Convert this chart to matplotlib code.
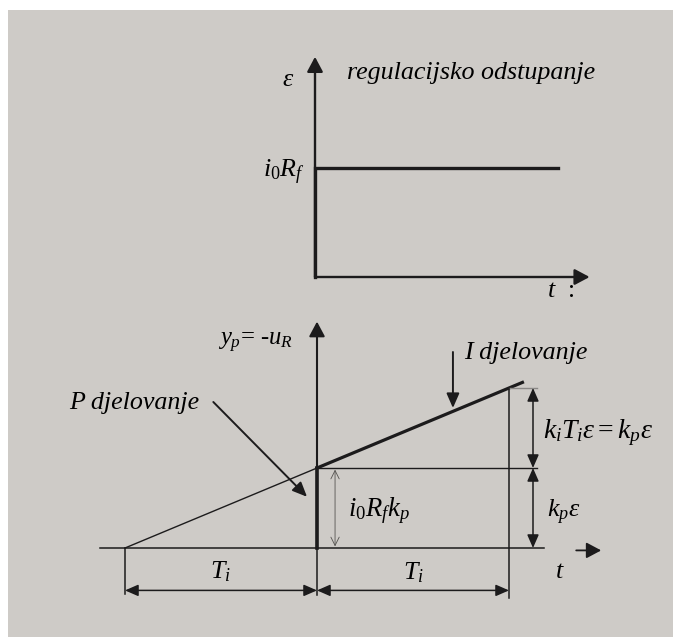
import numpy as np
import matplotlib.pyplot as plt
from matplotlib.patches import Rectangle

plt.rcParams['font.family'] = ['Liberation Serif', 'DejaVu Serif']
plt.rcParams['mathtext.fontset'] = 'custom'
plt.rcParams['mathtext.rm'] = 'Liberation Serif'
plt.rcParams['mathtext.it'] = 'Liberation Serif:italic'
plt.rcParams['mathtext.bf'] = 'Liberation Serif:bold'

# Podaci (normirano: Ti = 1, i0*Rf = 1, kp*eps = 1)
Ti = 1.0
# gornji dijagram: regulacijsko odstupanje
t_eps = [0.0, 0.0, 1.0]
eps = [0.0, 1.0, 1.0]
# donji dijagram: PI odziv
t_p = [0.0, 0.0]
y_p = [0.0, 1.0]
t_i = [0.0, 1.07]
y_i = [1.0, 2.07]
t_ext = [-Ti, 0.0]
y_ext = [0.0, 1.0]

ink = '#1c1b1c'
paper = '#cecbc7'
W, H = 676, 637

fig = plt.figure(figsize=(W / 100, H / 100), dpi=100)
fig.patch.set_facecolor('white')

bg = fig.add_axes([0, 0, 1, 1])
bg.set_xlim(0, W)
bg.set_ylim(H, 0)
bg.axis('off')
bg.add_patch(Rectangle((8, 10), 665, 627, color=paper, lw=0))


def place(origin, unit, xlim, ylim):
    ox, oy = origin
    ux, uy = unit
    left = ox + xlim[0] * ux
    right = ox + xlim[1] * ux
    bottom = oy - ylim[0] * uy
    top = oy - ylim[1] * uy
    ax = fig.add_axes([left / W, 1 - bottom / H, (right - left) / W, (bottom - top) / H])
    ax.set_xlim(xlim)
    ax.set_ylim(ylim)
    ax.axis('off')
    ax.patch.set_alpha(0)
    return ax


def arrow(ax, xy, xytext, style='-|>', ms=12, lw=1.5, color=ink, hl=0.75, hw=0.4):
    ax.annotate('', xy=xy, xytext=xytext,
                arrowprops=dict(arrowstyle=f'{style},head_length={hl},head_width={hw}',
                                mutation_scale=ms, lw=lw, color=color,
                                shrinkA=0, shrinkB=0))


fs = 18.7

# --- gornji dijagram ---
ax1 = place((315, 277), (243, 109), (-0.3, 1.4), (-0.3, 2.1))
arrow(ax1, (0, 2.02), (0, 0), lw=1.7)
arrow(ax1, (1.13, 0), (0, 0), lw=1.7)
ax1.plot(t_eps, eps, color=ink, lw=2.4, solid_joinstyle='miter')
ax1.text(-0.11, 1.81, r'$\varepsilon$', fontsize=fs, ha='center', va='center')
ax1.text(0.132, 1.87, 'regulacijsko odstupanje', fontsize=fs, style='italic',
         ha='left', va='center')
ax1.text(-0.04, 0.96, r'$i_{\mathit{0}}R_f$', fontsize=fs, ha='right', va='center')
ax1.text(0.955, -0.13, r'$t$  :', fontsize=fs, ha='left', va='center')

# --- donji dijagram ---
ax2 = place((317, 548), (192, 80), (-1.3, 1.8), (-0.8, 3.0))
arrow(ax2, (0, 2.83), (0, 0))
ax2.plot([-1.13, 1.18], [0, 0], color=ink, lw=1.1)
arrow(ax2, (1.48, -0.03), (1.35, -0.03), lw=1.3)
ax2.plot(t_ext, y_ext, color=ink, lw=1.0)
ax2.plot(t_p, y_p, color=ink, lw=2.6)
ax2.plot(t_i, y_i, color=ink, lw=2.3)

# pomocne linije
ax2.plot([0, 1.146], [1, 1], color=ink, lw=1.0)
ax2.plot([Ti, 1.146], [2, 2], color='#8a8886', lw=1.0)
ax2.plot([Ti, Ti], [2.0, -0.63], color=ink, lw=1.1)
ax2.plot([-Ti, -Ti], [0, -0.57], color=ink, lw=1.1)
ax2.plot([0, 0], [0, -0.59], color=ink, lw=1.1)

# kote
arrow(ax2, (-Ti, -0.53), (0, -0.53), style='<|-|>', ms=10, lw=1.1, hl=0.8, hw=0.35)
arrow(ax2, (Ti, -0.53), (0, -0.53), style='<|-|>', ms=10, lw=1.1, hl=0.8, hw=0.35)
arrow(ax2, (1.125, 2.0), (1.125, 1.0), style='<|-|>', ms=10, lw=1.1, hl=0.8, hw=0.35)
arrow(ax2, (1.125, 1.0), (1.125, 0.0), style='<|-|>', ms=10, lw=1.1, hl=0.8, hw=0.35)
arrow(ax2, (0.094, 0.98), (0.094, 0.02), style='<->', ms=10, lw=0.6,
      color='#555350', hl=0.6, hw=0.3)

# strelice za oznake
arrow(ax2, (0.708, 1.75), (0.708, 2.45), ms=11, lw=1.4, hl=0.8, hw=0.35)
arrow(ax2, (-0.052, 0.64), (-0.54, 1.825), ms=11, lw=1.4, hl=0.8, hw=0.35)

ax2.text(-0.32, 2.56, r'$y_p$= -$u_R$', fontsize=fs - 1, ha='center', va='center')
ax2.text(-0.95, 1.81, 'P djelovanje', fontsize=fs, style='italic', ha='center', va='center')
ax2.text(1.086, 2.44, 'I djelovanje', fontsize=fs, style='italic', ha='center', va='center')
ax2.text(1.177, 1.44, r'$k_iT_i\varepsilon = k_p\varepsilon$', fontsize=20,
         ha='left', va='center')
ax2.text(1.198, 0.45, r'$k_p\varepsilon$', fontsize=fs, ha='left', va='center')
ax2.text(0.16, 0.47, r'$i_{\mathit{0}}R_fk_p$', fontsize=fs + 0.5, ha='left', va='center')
ax2.text(-0.505, -0.3, r'$T_i$', fontsize=fs, ha='center', va='center')
ax2.text(0.5, -0.31, r'$T_i$', fontsize=fs, ha='center', va='center')
ax2.text(1.266, -0.3, r'$t$', fontsize=fs, ha='center', va='center')

fig.savefig('out.png', dpi=100, facecolor='white')
